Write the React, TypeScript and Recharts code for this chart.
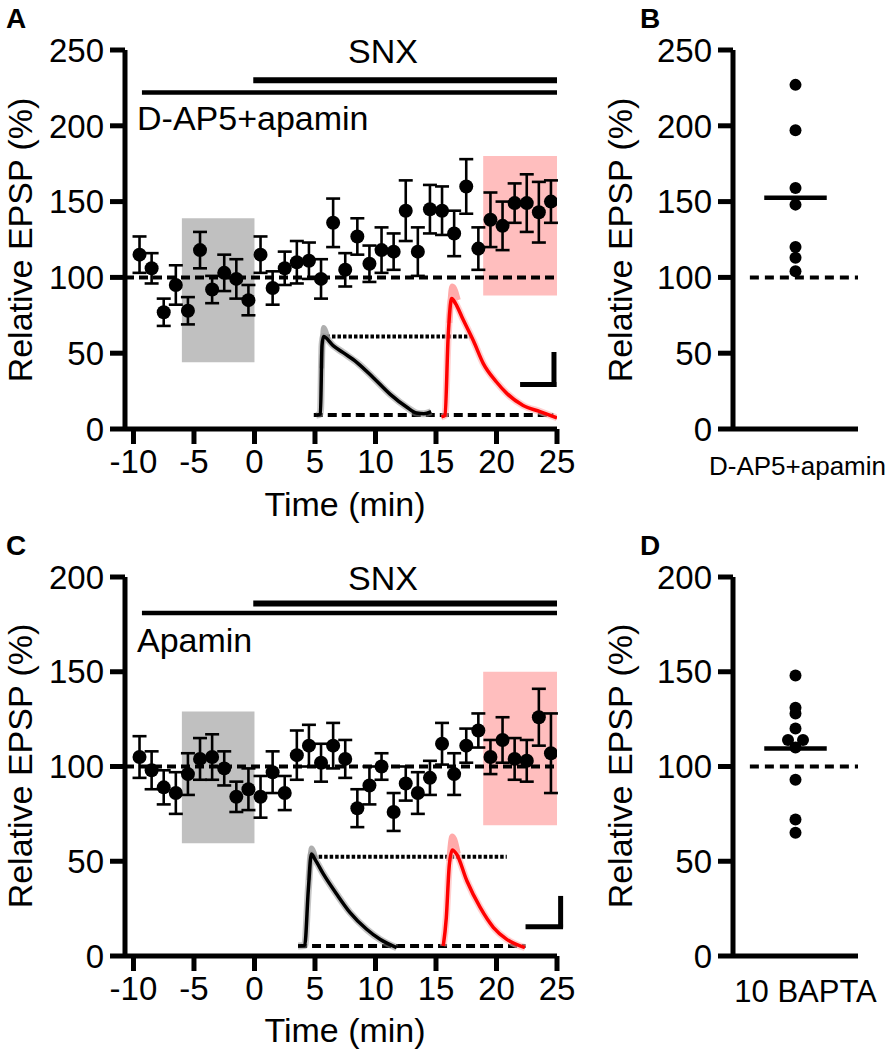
import React from 'react';
import {
  ComposedChart,
  Scatter,
  Line,
  XAxis,
  YAxis,
  ErrorBar,
  ReferenceLine,
  ReferenceArea,
} from 'recharts';

const FONT = '"Liberation Sans", Arial, sans-serif';

// time of each 1-min bin (min)
const TIMES = [
  -9.5, -8.5, -7.5, -6.5, -5.5, -4.5, -3.5, -2.5, -1.5, -0.5,
  0.5, 1.5, 2.5, 3.5, 4.5, 5.5, 6.5, 7.5, 8.5, 9.5,
  10.5, 11.5, 12.5, 13.5, 14.5, 15.5, 16.5, 17.5, 18.5, 19.5,
  20.5, 21.5, 22.5, 23.5, 24.5,
];

// panel A: D-AP5 + apamin
const EPSP_A = [
  115, 106, 77, 95, 78, 118, 92, 103, 99, 85,
  115, 93, 106, 110, 111, 99, 136, 105, 127, 109,
  118, 117, 144, 117, 145, 144, 129, 160, 119, 138,
  134, 149, 149, 143, 150,
];
const SEM_A = [
  12, 10, 9, 13, 9, 12, 9, 12, 13, 10,
  12, 11, 11, 14, 12, 13, 16, 11, 12, 12,
  15, 12, 20, 16, 16, 16, 15, 18, 14, 18,
  16, 13, 19, 20, 14,
];

// panel C: apamin
const EPSP_C = [
  105, 98, 89, 86, 96, 104, 105, 99, 84, 88,
  84, 97, 86, 106, 111, 102, 111, 104, 78, 90,
  100, 76, 91, 86, 94, 112, 96, 111, 119, 105,
  114, 104, 103, 126, 107,
];
const SEM_C = [
  11, 10, 9, 11, 11, 11, 12, 9, 8, 11,
  11, 11, 9, 13, 11, 10, 12, 10, 10, 10,
  7, 10, 9, 11, 9, 11, 11, 9, 9, 9,
  12, 11, 11, 15, 21,
];

// individual cells, panels B and D
const CELLS_B = [227, 197, 159, 148, 120, 113, 104];
const CELLS_D = [148, 131, 128, 120, 114, 114, 110, 93, 72, 65];
const CELLS_D_X = [1, 1, 1, 1, 0.88, 1.12, 1, 1, 1, 1];

const TICKS_T = [-10, -5, 0, 5, 10, 15, 20, 25];
const TICKS_A = [0, 50, 100, 150, 200, 250];
const TICKS_C = [0, 50, 100, 150, 200];

// example EPSP traces (drawn in the plot's own units)
const TRACE_A_BASE = [
  { t: 5.1, v: 9 }, { t: 5.45, v: 10 }, { t: 5.58, v: 55 }, { t: 5.7, v: 61 },
  { t: 6.5, v: 55 }, { t: 7.3, v: 50.5 }, { t: 8.45, v: 44 }, { t: 9.8, v: 34 },
  { t: 11.2, v: 23 }, { t: 12.6, v: 14.3 }, { t: 13.4, v: 10.5 }, { t: 14.0, v: 10 },
  { t: 14.6, v: 11.4 },
];
const SHADE_A_BASE = [{ t: 5.55, v: 40 }, { t: 5.7, v: 67 }, { t: 6.1, v: 59 }];
const TRACE_A_DRUG = [
  { t: 15.45, v: 8 }, { t: 15.75, v: 9 }, { t: 16.0, v: 60 }, { t: 16.3, v: 86 },
  { t: 16.6, v: 83 }, { t: 17.25, v: 72 }, { t: 18.1, v: 58 }, { t: 18.9, v: 43.3 },
  { t: 20.0, v: 31 }, { t: 20.85, v: 23.5 }, { t: 22.2, v: 15.5 }, { t: 23.6, v: 11.5 },
  { t: 25.0, v: 7.3 },
];
const SHADE_A_DRUG = [{ t: 16.1, v: 70 }, { t: 16.35, v: 94 }, { t: 16.8, v: 85 }];

const TRACE_C_BASE = [
  { t: 3.6, v: 5.3 }, { t: 4.15, v: 5.5 }, { t: 4.45, v: 35 }, { t: 4.7, v: 53.8 },
  { t: 5.0, v: 51 }, { t: 5.7, v: 43.2 }, { t: 6.8, v: 32.6 }, { t: 7.9, v: 22.9 },
  { t: 9.27, v: 14.1 }, { t: 10.37, v: 8.8 }, { t: 11.75, v: 4.4 },
];
const SHADE_C_BASE = [{ t: 4.5, v: 40 }, { t: 4.7, v: 57 }, { t: 5.1, v: 51 }];
const TRACE_C_DRUG = [
  { t: 15.6, v: 5.3 }, { t: 15.85, v: 20 }, { t: 16.1, v: 48 }, { t: 16.35, v: 56 },
  { t: 16.7, v: 53.8 }, { t: 17.55, v: 39.7 }, { t: 18.65, v: 25.6 }, { t: 19.75, v: 15 },
  { t: 20.85, v: 8.8 }, { t: 22.35, v: 4.4 },
];
const SHADE_C_DRUG = [{ t: 16.1, v: 50 }, { t: 16.35, v: 63 }, { t: 16.8, v: 54 }];

const axisStroke = { stroke: '#000', strokeWidth: 5 };
const tickStyle = { fill: '#000', fontSize: 33, fontFamily: FONT };

const dot = (r: number) => (p: any) => <circle cx={p.cx} cy={p.cy} r={r} fill="#000" />;

interface TimePanelProps {
  epsp: number[];
  sem: number[];
  yMax: number;
  yTicks: number[];
  gray: [number, number];
  pink: [number, number];
  barY: [number, number];
  base: { t: number; v: number }[];
  baseShade: { t: number; v: number }[];
  drug: { t: number; v: number }[];
  drugShade: { t: number; v: number }[];
  peak: { y: number; x1: number; x2: number };
  floor: { y: number; x1: number; x2: number };
  scale: { x: number; x1: number; y: number; y1: number; y2: number };
}

function TimePanel(p: TimePanelProps) {
  const pts = TIMES.map((t, i) => ({ t, v: p.epsp[i], err: p.sem[i] }));
  return (
    <ComposedChart width={600} height={500} margin={{ top: 50, right: 43, left: 0, bottom: 11 }}>
      <XAxis
        type="number"
        dataKey="t"
        domain={[-10.7, 25]}
        ticks={TICKS_T}
        allowDataOverflow
        axisLine={axisStroke}
        tickLine={axisStroke}
        tickSize={15}
        tickMargin={6}
        tick={tickStyle}
        height={60}
      />
      <YAxis
        type="number"
        dataKey="v"
        domain={[0, p.yMax]}
        ticks={p.yTicks}
        allowDataOverflow
        axisLine={axisStroke}
        tickLine={axisStroke}
        tickSize={15}
        tickMargin={6}
        tick={tickStyle}
        width={125}
      />
      <ReferenceArea x1={-6} x2={0} y1={p.gray[0]} y2={p.gray[1]} fill="#c0c0c0" fillOpacity={1} stroke="none" />
      <ReferenceArea x1={18.9} x2={25} y1={p.pink[0]} y2={p.pink[1]} fill="#ffbebe" fillOpacity={1} stroke="none" />
      <ReferenceLine y={100} segment={[{ x: -10, y: 100 }, { x: 25, y: 100 }]} stroke="#000" strokeWidth={4} strokeDasharray="9 5" />
      {/* drug bars */}
      <ReferenceLine segment={[{ x: -9.3, y: p.barY[0] }, { x: 25, y: p.barY[0] }]} stroke="#000" strokeWidth={4.5} ifOverflow="visible" />
      <ReferenceLine segment={[{ x: -0.1, y: p.barY[1] }, { x: 25, y: p.barY[1] }]} stroke="#000" strokeWidth={6} ifOverflow="visible" />
      {/* inset traces */}
      <ReferenceLine segment={[{ x: p.floor.x1, y: p.floor.y }, { x: p.floor.x2, y: p.floor.y }]} stroke="#000" strokeWidth={4} strokeDasharray="9 5" />
      <ReferenceLine segment={[{ x: p.peak.x1, y: p.peak.y }, { x: p.peak.x2, y: p.peak.y }]} stroke="#000" strokeWidth={4} strokeDasharray="3.5 2" />
      <Line data={p.base} dataKey="v" type="monotone" stroke="#8c8c8c" strokeWidth={7} strokeOpacity={0.5} dot={false} isAnimationActive={false} />
      <Line data={p.baseShade} dataKey="v" type="monotone" stroke="#9a9a9a" strokeWidth={5} strokeOpacity={0.8} dot={false} isAnimationActive={false} />
      <Line data={p.base} dataKey="v" type="monotone" stroke="#000" strokeWidth={3.5} dot={false} isAnimationActive={false} />
      <Line data={p.drugShade} dataKey="v" type="monotone" stroke="#ffaaaa" strokeWidth={6} dot={false} isAnimationActive={false} />
      <Line data={p.drug} dataKey="v" type="monotone" stroke="#ffb0b0" strokeWidth={7} strokeOpacity={0.6} dot={false} isAnimationActive={false} />
      <Line data={p.drug} dataKey="v" type="monotone" stroke="#ff0000" strokeWidth={3.5} dot={false} isAnimationActive={false} />
      {/* scale bar */}
      <ReferenceLine segment={[{ x: p.scale.x, y: p.scale.y1 }, { x: p.scale.x, y: p.scale.y2 }]} stroke="#000" strokeWidth={5} ifOverflow="visible" />
      <ReferenceLine segment={[{ x: p.scale.x1, y: p.scale.y }, { x: p.scale.x + 0.2, y: p.scale.y }]} stroke="#000" strokeWidth={5} ifOverflow="visible" />
      <Scatter data={pts} dataKey="v" shape={dot(7)} isAnimationActive={false}>
        <ErrorBar dataKey="err" direction="y" width={7} stroke="#000" strokeWidth={2.6} />
      </Scatter>
    </ComposedChart>
  );
}

interface CellPanelProps {
  cells: number[];
  xs?: number[];
  yMax: number;
  yTicks: number[];
  label: string;
  labelDx: number;
  labelSize: number;
}

function CellPanel({ cells, xs, yMax, yTicks, label, labelDx, labelSize }: CellPanelProps) {
  const pts = cells.map((v, i) => ({ t: xs ? xs[i] : 1, v }));
  const mean = cells.reduce((a, b) => a + b, 0) / cells.length;
  const catTick = (props: any) => (
    <text
      x={props.x + labelDx}
      y={props.y + 38}
      textAnchor="middle"
      fill="#000"
      fontSize={labelSize}
      fontFamily={FONT}
    >
      {label}
    </text>
  );
  return (
    <ComposedChart width={287} height={500} margin={{ top: 50, right: 29, left: 0, bottom: 11 }}>
      <XAxis
        type="number"
        dataKey="t"
        domain={[0, 2]}
        ticks={[1]}
        axisLine={axisStroke}
        tickLine={false}
        tick={catTick}
        height={60}
      />
      <YAxis
        type="number"
        dataKey="v"
        domain={[0, yMax]}
        ticks={yTicks}
        allowDataOverflow
        axisLine={axisStroke}
        tickLine={axisStroke}
        tickSize={15}
        tickMargin={6}
        tick={tickStyle}
        width={133}
      />
      <ReferenceLine segment={[{ x: 0.27, y: 100 }, { x: 2, y: 100 }]} stroke="#000" strokeWidth={4} strokeDasharray="9 6" />
      <Scatter data={pts} dataKey="v" shape={dot(6)} isAnimationActive={false} />
      <ReferenceLine segment={[{ x: 0.5, y: mean }, { x: 1.5, y: mean }]} stroke="#000" strokeWidth={4.5} />
    </ComposedChart>
  );
}

function Overlay() {
  const t = { fontFamily: FONT, fill: '#000' };
  return (
    <svg width={887} height={1050} style={{ position: 'absolute', left: 0, top: 0, pointerEvents: 'none' }}>
      <g style={{ ...t, fontWeight: 700, fontSize: 28 } as any}>
        <text x={6} y={28}>A</text>
        <text x={640} y={28}>B</text>
        <text x={6} y={555}>C</text>
        <text x={640} y={555}>D</text>
      </g>
      <g style={{ ...t, fontSize: 34 } as any}>
        <text x={383} y={63} textAnchor="middle">SNX</text>
        <text x={137} y={130}>D-AP5+apamin</text>
        <text x={345} y={516} textAnchor="middle">Time (min)</text>
        <text x={32} y={240} textAnchor="middle" transform="rotate(-90 32 240)">Relative EPSP (%)</text>
        <text x={632} y={240} textAnchor="middle" transform="rotate(-90 632 240)">Relative EPSP (%)</text>
        <text x={383} y={590} textAnchor="middle">SNX</text>
        <text x={137} y={652}>Apamin</text>
        <text x={345} y={1042} textAnchor="middle">Time (min)</text>
        <text x={32} y={766} textAnchor="middle" transform="rotate(-90 32 766)">Relative EPSP (%)</text>
        <text x={632} y={766} textAnchor="middle" transform="rotate(-90 632 766)">Relative EPSP (%)</text>
      </g>
    </svg>
  );
}

export default function App() {
  return (
    <div style={{ position: 'absolute', left: 0, top: 0, width: 887, height: 1050, background: '#fff', overflow: 'hidden' }}>
      <div style={{ position: 'absolute', left: 0, top: 0 }}>
        <TimePanel
          epsp={EPSP_A}
          sem={SEM_A}
          yMax={250}
          yTicks={TICKS_A}
          gray={[44, 139]}
          pink={[88, 180]}
          barY={[222, 230]}
          base={TRACE_A_BASE}
          baseShade={SHADE_A_BASE}
          drug={TRACE_A_DRUG}
          drugShade={SHADE_A_DRUG}
          peak={{ y: 61, x1: 5.95, x2: 17.8 }}
          floor={{ y: 9.3, x1: 4.9, x2: 24.7 }}
          scale={{ x: 24.75, x1: 21.95, y: 29.4, y1: 27.7, y2: 50.8 }}
        />
      </div>
      <div style={{ position: 'absolute', left: 0, top: 527 }}>
        <TimePanel
          epsp={EPSP_C}
          sem={SEM_C}
          yMax={200}
          yTicks={TICKS_C}
          gray={[59.5, 129]}
          pink={[69, 150]}
          barY={[181, 186]}
          base={TRACE_C_BASE}
          baseShade={SHADE_C_BASE}
          drug={TRACE_C_DRUG}
          drugShade={SHADE_C_DRUG}
          peak={{ y: 52.4, x1: 4.85, x2: 20.85 }}
          floor={{ y: 5.3, x1: 3.6, x2: 22.4 }}
          scale={{ x: 25.3, x1: 22.4, y: 15.5, y1: 15, y2: 31.7 }}
        />
      </div>
      <div style={{ position: 'absolute', left: 600, top: 0 }}>
        <CellPanel cells={CELLS_B} yMax={250} yTicks={TICKS_A} label="D-AP5+apamin" labelDx={2} labelSize={26} />
      </div>
      <div style={{ position: 'absolute', left: 600, top: 527 }}>
        <CellPanel cells={CELLS_D} xs={CELLS_D_X} yMax={200} yTicks={TICKS_C} label="10 BAPTA" labelDx={10} labelSize={31} />
      </div>
      <Overlay />
    </div>
  );
}
